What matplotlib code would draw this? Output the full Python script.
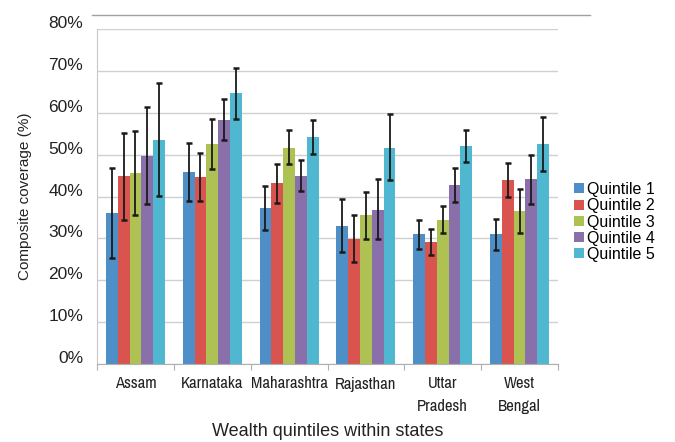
import matplotlib
matplotlib.use("Agg")
import matplotlib.pyplot as plt
import matplotlib.transforms as mtransforms
from matplotlib.lines import Line2D
from matplotlib.patches import Patch
import numpy as np
from matplotlib import font_manager

states = ["Assam", "Karnataka", "Maharashtra", "Rajasthan", "Uttar\nPradesh", "West\nBengal"]
series = ["Quintile 1", "Quintile 2", "Quintile 3", "Quintile 4", "Quintile 5"]

q1 = [36.0, 45.9, 37.3, 32.9, 31.0, 31.1]
q2 = [44.9, 44.7, 43.3, 29.8, 29.2, 43.9]
q3 = [45.7, 52.5, 51.7, 35.5, 34.3, 36.5]
q4 = [49.7, 58.3, 44.9, 36.8, 42.7, 44.1]
q5 = [53.6, 64.7, 54.2, 51.6, 52.1, 52.5]

q1_hi = [46.9, 52.7, 42.6, 39.4, 34.4, 34.7]
q2_hi = [55.1, 50.5, 47.7, 35.5, 32.3, 48.0]
q3_hi = [55.6, 58.5, 55.8, 41.1, 37.7, 41.9]
q4_hi = [61.3, 63.2, 48.8, 44.1, 46.9, 49.8]
q5_hi = [67.1, 70.8, 58.2, 59.6, 55.8, 59.0]

q1_lo = [25.4, 38.9, 32.0, 26.8, 27.4, 27.2]
q2_lo = [34.5, 38.9, 38.5, 24.4, 26.0, 39.9]
q3_lo = [35.5, 46.5, 47.7, 29.8, 31.2, 31.3]
q4_lo = [38.1, 53.6, 41.2, 29.9, 38.7, 38.3]
q5_lo = [40.1, 58.6, 50.1, 43.9, 48.2, 46.1]

yticks = [0, 10, 20, 30, 40, 50, 60, 70, 80]
ytick_labels = ["0%", "10%", "20%", "30%", "40%", "50%", "60%", "70%", "80%"]

colors = ["#4f8fc8", "#d9534f", "#aec253", "#8a70ab", "#4fb8d0"]

# pick a narrow font for the category labels if one exists
narrow = None
for f in font_manager.fontManager.ttflist:
    if "narrow" in f.name.lower() or "narrow" in f.fname.lower():
        narrow = f.name
        break
if narrow is not None:
    cat_family, cat_size = narrow, 12
else:
    cat_family, cat_size = "Liberation Sans", 10

plt.rcParams["font.family"] = ["Liberation Sans", "DejaVu Sans"]

fig = plt.figure(figsize=(6.75, 4.42), dpi=100)
ax = fig.add_axes([97 / 675, 1 - 364 / 442, (558 - 97) / 675, (364 - 29) / 442])

vals = [q1, q2, q3, q4, q5]
his = [q1_hi, q2_hi, q3_hi, q4_hi, q5_hi]
los = [q1_lo, q2_lo, q3_lo, q4_lo, q5_lo]

x = np.arange(len(states))
w = 0.154
for i in range(5):
    v = np.array(vals[i])
    hi = np.array(his[i])
    lo = np.array(los[i])
    pos = x + (i - 2) * w
    ax.bar(pos, v, width=w, color=colors[i], zorder=2, linewidth=0)
    ax.errorbar(pos, v, yerr=[v - lo, hi - v], fmt="none", ecolor="#1a1a1a",
                elinewidth=1.3, capsize=2.3, capthick=1.8, zorder=3)

ax.set_xlim(-0.5, len(states) - 0.5)
ax.set_ylim(0, 80)
ax.set_yticks(yticks)
ax.set_yticklabels(ytick_labels, fontsize=12.5, color="#222222")
ax.yaxis.grid(True, color="#d0d0d0", linewidth=1, zorder=0)
ax.set_axisbelow(True)
ax.tick_params(axis="y", length=0, pad=10)
offset = mtransforms.ScaledTranslation(0, 5 / 72, fig.dpi_scale_trans)
for lab in ax.get_yticklabels():
    lab.set_transform(lab.get_transform() + offset)

ax.set_xticks(np.arange(len(states) + 1) - 0.5, minor=False)
ax.set_xticklabels([])
ax.set_xticks(x, minor=True)
ax.set_xticklabels(states, minor=True, fontsize=cat_size, family=cat_family, color="#222222",
                   linespacing=1.6)
ax.tick_params(axis="x", which="major", length=4, color="#b0b0b0", direction="out")
ax.tick_params(axis="x", which="minor", length=0, pad=9)

for s in ["top", "right"]:
    ax.spines[s].set_visible(False)
ax.spines["left"].set_color("#c8c8c8")
ax.spines["bottom"].set_color("#b0b0b0")

ax.set_ylabel("Composite coverage (%)", fontsize=11, color="#222222", labelpad=12)
ax.set_xlabel("Wealth quintiles within states", fontsize=13, color="#222222", labelpad=7)

# decorative top line
fig.add_artist(Line2D([92 / 675, 590 / 675], [1 - 15 / 442, 1 - 15 / 442],
                      color="#a0a0a0", linewidth=1))

handles = [Patch(facecolor=c, edgecolor="none") for c in colors]
fig.legend(handles, series, loc="center left", bbox_to_anchor=(574 / 675, 1 - 222 / 442),
           frameon=False, fontsize=11.5, handlelength=0.6, handleheight=0.6,
           handletextpad=0.2, labelspacing=0.08, borderaxespad=0, borderpad=0)

fig.savefig("out.png", dpi=100)
